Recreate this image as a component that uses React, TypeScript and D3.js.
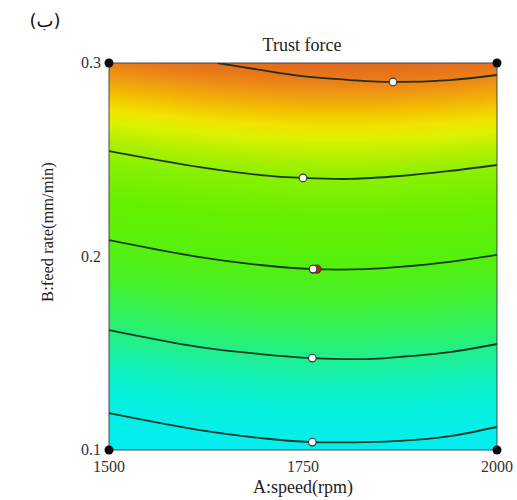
import React from "react";
import * as d3 from "d3";

// ---- data ----
const speedTicks = [1500, 1750, 2000];
const feedTicks = [0.1, 0.2, 0.3];
const speedDomain: [number, number] = [1500, 2000];
const feedDomain: [number, number] = [0.1, 0.3];

// contour lines as [A:speed, B:feed] points
const contour1: [number, number][] = [
  [1640, 0.3], [1695, 0.2964], [1746, 0.2933], [1811, 0.2912], [1866, 0.2902], [1939, 0.2912], [2000, 0.2938],
];
const contour2: [number, number][] = [
  [1500, 0.2545], [1617, 0.2462], [1695, 0.2421], [1750, 0.2406], [1811, 0.2401], [1875, 0.2416], [1939, 0.2442], [2000, 0.2473],
];
const contour3: [number, number][] = [
  [1500, 0.2085], [1617, 0.1997], [1695, 0.1956], [1763, 0.1935], [1832, 0.1935], [1875, 0.1946], [1939, 0.1972], [2000, 0.2008],
];
const contour4: [number, number][] = [
  [1500, 0.162], [1617, 0.1532], [1695, 0.1496], [1762, 0.1475], [1832, 0.147], [1875, 0.1481], [1939, 0.1506], [2000, 0.1548],
];
const contour5: [number, number][] = [
  [1500, 0.1191], [1617, 0.1103], [1695, 0.1062], [1762, 0.1041], [1832, 0.1041], [1875, 0.1047], [1939, 0.1072], [2000, 0.1119],
];
const contours = [contour1, contour2, contour3, contour4, contour5];

// label dots on the contours
const labelDots: [number, number][] = [
  [1866, 0.2902], [1750, 0.2406], [1763, 0.1935], [1762, 0.1475], [1762, 0.1041],
];
const centerPoint: [number, number] = [1768, 0.1935];

// response colour at the centre column, by feed value
const colorStops: [number, string][] = [
  [0.3, "#e2681e"],
  [0.2933, "#e8761a"],
  [0.286, "#ee9014"],
  [0.2757, "#f2bc02"],
  [0.2669, "#f0e400"],
  [0.2602, "#dcf200"],
  [0.2499, "#aef000"],
  [0.2395, "#88f000"],
  [0.2189, "#64f000"],
  [0.194, "#54f010"],
  [0.1775, "#44f02c"],
  [0.162, "#30f05c"],
  [0.1475, "#20f08e"],
  [0.1336, "#10f0bc"],
  [0.1207, "#06f0dc"],
  [0.1, "#04eef0"],
];

const W = 517;
const H = 500;
const L = 109, R = 497, T = 63, B = 450;

export default function App() {
  const x = d3.scaleLinear().domain(speedDomain).range([L, R]);
  const y = d3.scaleLinear().domain(feedDomain).range([B, T]);

  const line = d3
    .line<[number, number]>()
    .x((d) => x(d[0]))
    .y((d) => y(d[1]))
    .curve(d3.curveCatmullRom.alpha(0.5));

  // fill follows the contour shape (from contour 3)
  const shape = d3
    .scaleLinear()
    .domain(contour3.map((d) => d[0]))
    .range(contour3.map((d) => d[1]))
    .clamp(true);
  const centreA = 1763;
  const warp = 0.6;
  const strips: { x0: number; dy: number }[] = [];
  for (let px = L; px < R; px += 2) {
    const a = x.invert(px + 1);
    const dy = (y(shape(a)) - y(shape(centreA))) * warp;
    strips.push({ x0: px, dy });
  }

  const serif = "'Liberation Serif', 'Times New Roman', serif";

  return (
    <svg
      width={W}
      height={H}
      style={{ position: "absolute", left: 0, top: 0, background: "#fff" }}
      fontFamily={serif}
    >
      <defs>
        <linearGradient id="resp" gradientUnits="userSpaceOnUse" x1={0} x2={0} y1={T - 40} y2={B + 40}>
          <stop offset={0} stopColor={colorStops[0][1]} />
          {colorStops.map(([v, c], i) => (
            <stop key={i} offset={(y(v) - (T - 40)) / (B - T + 80)} stopColor={c} />
          ))}
          <stop offset={1} stopColor={colorStops[colorStops.length - 1][1]} />
        </linearGradient>
        <clipPath id="plotClip">
          <rect x={L} y={T} width={R - L} height={B - T} />
        </clipPath>
      </defs>

      <g clipPath="url(#plotClip)">
        {strips.map((s, i) => (
          <g key={i} transform={`translate(0,${s.dy})`}>
            <rect x={s.x0} y={T - s.dy - 1} width={2.6} height={B - T + 2} fill="url(#resp)" />
          </g>
        ))}
        {contours.map((c, i) => (
          <path key={i} d={line(c) || ""} fill="none" stroke="#0c2616" strokeOpacity={0.9} strokeWidth={1.8} />
        ))}
      </g>

      <rect x={L} y={T} width={R - L} height={B - T} fill="none" stroke="#3a3a3a" strokeOpacity={0.75} strokeWidth={1.2} />

      {labelDots.map((d, i) => (
        <circle key={i} cx={x(d[0])} cy={y(d[1])} r={3.8} fill="#fff" stroke="#333" strokeWidth={1.1} />
      ))}
      <circle cx={x(centerPoint[0])} cy={y(centerPoint[1])} r={4.2} fill="#b3261a" stroke="#5a1008" strokeWidth={0.8} />
      <circle cx={x(labelDots[2][0])} cy={y(labelDots[2][1])} r={3.8} fill="#fff" stroke="#333" strokeWidth={1.1} />

      {[[1500, 0.3], [2000, 0.3], [1500, 0.1], [2000, 0.1]].map((d, i) => (
        <circle key={i} cx={x(d[0])} cy={y(d[1])} r={4.5} fill="#0a0a0a" />
      ))}

      {feedTicks.map((v) => (
        <text key={v} x={101} y={y(v) + 5} textAnchor="end" fontSize={16} fill="#333">
          {v.toFixed(1)}
        </text>
      ))}
      {speedTicks.map((v) => (
        <text key={v} x={x(v)} y={472} textAnchor="middle" fontSize={16} fill="#333">
          {v}
        </text>
      ))}

      <text x={303} y={493} textAnchor="middle" fontSize={18} fill="#222">
        A:speed(rpm)
      </text>
      <text transform="translate(53,232) rotate(-90)" textAnchor="middle" fontSize={16.5} fill="#222">
        B:feed rate(mm/min)
      </text>
      <text x={302} y={51} textAnchor="middle" fontSize={18} fill="#222">
        Trust force
      </text>
      <text x={45} y={27} textAnchor="middle" fontSize={18} fontFamily="'DejaVu Sans', sans-serif" fill="#111">
        (ب)
      </text>
    </svg>
  );
}
